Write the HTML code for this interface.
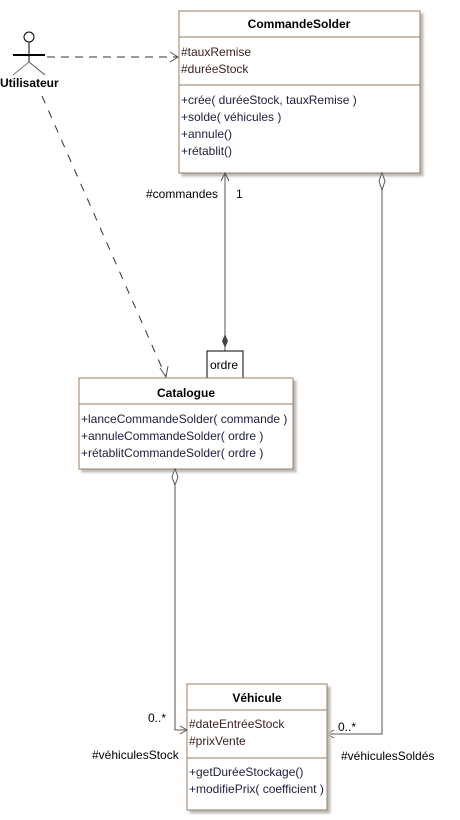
<!DOCTYPE html>
<html><head><meta charset="utf-8"><style>
body{margin:0;background:#fff;width:460px;height:815px;overflow:hidden}
svg text{font-family:"Liberation Sans",sans-serif;font-size:12px}
</style></head><body>
<svg width="460" height="815" xmlns="http://www.w3.org/2000/svg">
<defs><filter id="sh"><feDropShadow dx="3" dy="3" stdDeviation="1" flood-color="#bbb" flood-opacity="1"/></filter></defs>
<!-- actor -->
<circle cx="29" cy="37" r="5" fill="#fff" stroke="#000"/>
<line x1="29" y1="42" x2="29" y2="62" stroke="#000"/>
<line x1="13" y1="55" x2="45" y2="55" stroke="#000" stroke-width="2"/>
<line x1="29" y1="62" x2="13" y2="75" stroke="#777"/>
<line x1="29" y1="62" x2="45" y2="75" stroke="#555"/>
<text x="0" y="87" font-weight="bold">Utilisateur</text>
<!-- dashed to CommandeSolder -->
<line x1="47" y1="57" x2="178" y2="57" stroke="#333" stroke-dasharray="8,6"/>
<polyline points="170,52 178,57 170,62" fill="none" stroke="#555"/>
<!-- dashed to Catalogue -->
<line x1="42" y1="96" x2="166" y2="377" stroke="#333" stroke-dasharray="8,8"/>
<polyline points="160,368 166,377 168,366" fill="none" stroke="#555"/>
<!-- CommandeSolder -->
<rect x="179" y="11" width="241" height="162" fill="#fff" stroke="#9a7b62" filter="url(#sh)"/>
<line x1="179" y1="37" x2="420" y2="37" stroke="#9a7b62"/>
<line x1="179" y1="85" x2="420" y2="85" stroke="#9a7b62"/>
<text x="299" y="28" text-anchor="middle" font-weight="bold">CommandeSolder</text>
<text x="181" y="56" fill="#402020">#tauxRemise</text>
<text x="181" y="73" fill="#402020">#duréeStock</text>
<text x="181" y="104" fill="#202040">+crée( duréeStock, tauxRemise )</text>
<text x="181" y="121" fill="#202040">+solde( véhicules )</text>
<text x="181" y="138" fill="#202040">+annule()</text>
<text x="181" y="155" fill="#202040">+rétablit()</text>
<!-- composition line -->
<line x1="225" y1="173" x2="225" y2="351" stroke="#555"/>
<polyline points="221,181 225,173 229,181" fill="none" stroke="#555"/>
<polygon points="225,334 228,341 225,348 222,341" fill="#444"/>
<text x="146" y="198">#commandes</text>
<text x="236" y="198">1</text>
<rect x="207" y="351" width="36" height="27" fill="#fff" stroke="#000"/>
<text x="210" y="369">ordre</text>
<!-- Catalogue -->
<rect x="79" y="378" width="214" height="91" fill="#fff" stroke="#9a7b62" filter="url(#sh)"/>
<line x1="79" y1="404" x2="293" y2="404" stroke="#9a7b62"/>
<text x="186" y="397" text-anchor="middle" font-weight="bold">Catalogue</text>
<text x="81" y="423" fill="#202040">+lanceCommandeSolder( commande )</text>
<text x="81" y="440" fill="#202040">+annuleCommandeSolder( ordre )</text>
<text x="81" y="457" fill="#202040">+rétablitCommandeSolder( ordre )</text>
<!-- Catalogue to Vehicule -->
<polyline points="175,485 175,730 187,730" fill="none" stroke="#555"/>
<polygon points="175,469 178,477 175,485 172,477" fill="#fff" stroke="#555"/>
<polyline points="180,726 187,730 180,734" fill="none" stroke="#555"/>
<text x="148" y="722">0..*</text>
<text x="92" y="759">#véhiculesStock</text>
<!-- CommandeSolder to Vehicule -->
<polyline points="382,190 382,734 327,734" fill="none" stroke="#555"/>
<polygon points="382,173 385,181 382,190 379,181" fill="#fff" stroke="#555"/>
<polyline points="334,730 327,734 334,738" fill="none" stroke="#555"/>
<text x="338" y="731">0..*</text>
<text x="341" y="760">#véhiculesSoldés</text>
<!-- Vehicule -->
<rect x="187" y="684" width="140" height="126" fill="#fff" stroke="#9a7b62" filter="url(#sh)"/>
<line x1="187" y1="710" x2="327" y2="710" stroke="#9a7b62"/>
<line x1="187" y1="758" x2="327" y2="758" stroke="#9a7b62"/>
<text x="257" y="702" text-anchor="middle" font-weight="bold">Véhicule</text>
<text x="189" y="728" fill="#402020">#dateEntréeStock</text>
<text x="189" y="745" fill="#402020">#prixVente</text>
<text x="189" y="776" fill="#202040">+getDuréeStockage()</text>
<text x="189" y="793" fill="#202040">+modifiePrix( coefficient )</text>
</svg>
</body></html>
